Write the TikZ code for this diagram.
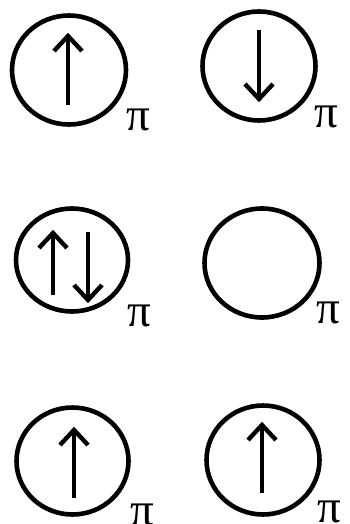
\documentclass[tikz,border=0pt]{standalone}
\usepackage{fontspec}
\setmainfont{Liberation Serif}
\usetikzlibrary{shapes.geometric}
\newcommand\spinUp[3]{%
  \draw[spin] (#1,#3) -- (#1,#2);
  \draw[spin] (#1-14,#2+15) -- (#1,#2) -- (#1+14,#2+15);}
\newcommand\spinDown[3]{%
  \draw[spin] (#1,#2) -- (#1,#3);
  \draw[spin] (#1-14,#3-15) -- (#1,#3) -- (#1+14,#3-15);}
\begin{document}
\begin{tikzpicture}[x=1pt,y=-1pt,
  orb/.style={draw, ellipse, line width=4.6pt, inner sep=0pt},
  lbl/.style={inner sep=0pt, font=\fontsize{47}{47}\selectfont},
  spin/.style={line width=4.4pt, miter limit=10}
]
\useasboundingbox (0,0) rectangle (349,524);
\node[orb, minimum width=114pt, minimum height=109pt] (c1) at (69,70) {};
\node[orb, minimum width=113pt, minimum height=109pt] (c2) at (259,66) {};
\node[orb, minimum width=112pt, minimum height=103pt] (c3) at (72,260) {};
\node[orb, minimum width=115pt, minimum height=109pt] (c4) at (262,263) {};
\node[orb, minimum width=112pt, minimum height=107pt] (c5) at (72.5,461) {};
\node[orb, minimum width=113pt, minimum height=109pt] (c6) at (263,460) {};
\node[lbl] (p1) at (138,120) {π};
\node[lbl] (p2) at (326,117) {π};
\node[lbl] (p3) at (139,316) {π};
\node[lbl] (p4) at (328,313) {π};
\node[lbl] (p5) at (142,515) {π};
\node[lbl] (p6) at (329,512) {π};
\spinUp{68}{36}{105}
\spinDown{259}{30}{99}
\spinUp{53}{233}{295}
\spinDown{88}{232}{300}
\spinUp{74}{430}{498}
\spinUp{262}{425}{493}
\end{tikzpicture}
\end{document}
